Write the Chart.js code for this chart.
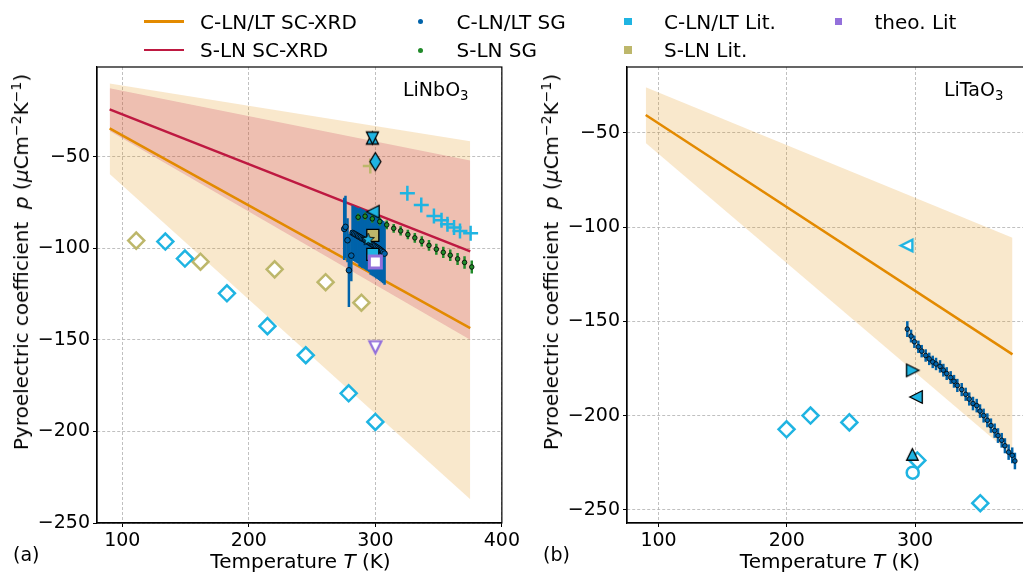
<!DOCTYPE html>
<html>
<head>
<meta charset="utf-8">
<title>Pyroelectric coefficient of LiNbO3 and LiTaO3</title>
<script src="https://cdn.jsdelivr.net/npm/chart.js@4.4.1/dist/chart.umd.min.js"></script>
<style>
  html, body { margin: 0; padding: 0; background: #fff; width: 1023px; height: 572px; overflow: hidden; }
  body { position: relative; font-family: 'DejaVu Sans', sans-serif; color: #000; }
  canvas { position: absolute; top: 0; }
  #chartA { left: 0; }
  #chartB { left: 520px; }
  .txt { position: absolute; white-space: nowrap; line-height: 1; font-size: 20px; }
  .small { font-size: 19px; }
  .ylab { transform: translate(-50%, -50%) rotate(-90deg); }
  .xlab { transform: translateX(-50%); }
  .key { position: absolute; }
  sup, sub { font-size: 70%; line-height: 0; }
  sup { vertical-align: 0.5em; }
  sub { vertical-align: -0.3em; }
</style>
</head>
<body>
<canvas id="chartA" width="523" height="572"></canvas>
<canvas id="chartB" width="540" height="572"></canvas>

<!-- legend -->
<div class="key" style="left:144px;top:20.25px;width:40px;height:2.5px;background:#E38A00"></div>
<div class="txt" style="left:200px;top:11.9px">C-LN/LT SC-XRD</div>
<div class="key" style="left:417.5px;top:19px;width:5px;height:5px;border-radius:50%;background:#0063AA"></div>
<div class="txt" style="left:456.5px;top:11.9px">C-LN/LT SG</div>
<div class="key" style="left:624.25px;top:17.75px;width:7.5px;height:7.5px;background:#1FB4E2"></div>
<div class="txt" style="left:664px;top:11.9px">C-LN/LT Lit.</div>
<div class="key" style="left:834.75px;top:17.75px;width:7.5px;height:7.5px;background:#9370DB"></div>
<div class="txt" style="left:874.5px;top:11.9px">theo. Lit</div>
<div class="key" style="left:144px;top:48.75px;width:40px;height:2.5px;background:#BE1941"></div>
<div class="txt" style="left:200px;top:40.4px">S-LN SC-XRD</div>
<div class="key" style="left:417.5px;top:47.5px;width:5px;height:5px;border-radius:50%;background:#218A2A"></div>
<div class="txt" style="left:456.5px;top:40.4px">S-LN SG</div>
<div class="key" style="left:624.25px;top:46.25px;width:7.5px;height:7.5px;background:#BDB76B"></div>
<div class="txt" style="left:664px;top:40.4px">S-LN Lit.</div>

<!-- axis titles and panel names -->
<div class="txt ylab" style="left:21px;top:262px">Pyroelectric coefficient&nbsp; <i>p</i> (<i>μ</i>Cm<sup>−2</sup>K<sup>−1</sup>)</div>
<div class="txt ylab" style="left:551px;top:262px">Pyroelectric coefficient&nbsp; <i>p</i> (<i>μ</i>Cm<sup>−2</sup>K<sup>−1</sup>)</div>
<div class="txt xlab" style="left:300.5px;top:551px">Temperature <i>T</i> (K)</div>
<div class="txt xlab" style="left:830px;top:551px">Temperature <i>T</i> (K)</div>
<div class="txt small" style="left:403px;top:79.5px">LiNbO<sub>3</sub></div>
<div class="txt small" style="left:944px;top:80px">LiTaO<sub>3</sub></div>
<div class="txt small" style="left:13px;top:545px">(a)</div>
<div class="txt small" style="left:543px;top:545px">(b)</div>

<script>
// ---------- data: LiNbO3 (a) ----------
const lnTicksX = [100, 200, 300, 400];
const lnTicksY = [-250, -200, -150, -100, -50];

const lnFitT = [90, 375];
const lnCXrd = [-34.5, -143.6];
const lnCXrdHi = [-10.0, -41.5];
const lnCXrdLo = [-59.4, -237.0];
const lnSXrd = [-24.1, -101.7];
const lnSXrdHi = [-12.6, -52.0];
const lnSXrdLo = [-36.0, -150.0];

const lnCSgT = [275.4, 276.4, 278.0, 279.1, 281.0, 282.0, 283.1, 284.2, 285.3, 286.4, 287.5, 288.6, 289.7, 290.8, 291.9,
  293.0, 294.1, 295.2, 296.3, 297.4, 298.5, 299.6, 300.7, 301.8, 302.9, 304.0, 305.1, 306.2, 307.3];
const lnCSgP = [-89.4, -88.3, -95.6, -112.0, -104.0, -91.6, -92.0, -92.4, -92.9, -93.3, -93.8, -94.2, -94.7, -95.0, -95.5,
  -96.0, -96.4, -96.9, -97.4, -97.8, -98.3, -98.8, -99.3, -99.8, -100.3, -100.9, -101.5, -102.1, -102.9];
const lnCSgErr = [17, 17, 12, 20, 14, 15, 15, 15, 15, 15, 16, 16, 16, 16, 16,
  16, 16, 16, 17, 17, 17, 17, 17, 17, 17, 17, 17, 17, 17];

const lnSSgT = [286.4, 291.9, 297.6, 303.5, 309.0, 314.5, 320.0, 325.7, 331.2, 336.7, 342.4, 348.2, 353.7, 359.2, 365.0, 370.5, 376.2];
const lnSSgP = [-83.0, -82.5, -83.9, -85.4, -87.2, -89.1, -90.5, -92.5, -94.3, -96.2, -98.4, -100.5, -102.2, -103.8, -105.8, -107.7, -110.2];
const lnSSgErr = [2.0, 2.0, 2.2, 2.2, 2.4, 2.4, 2.5, 2.6, 2.7, 2.8, 2.9, 3.0, 3.1, 3.2, 3.3, 3.4, 3.6];

const lnCLitDiaT = [134.0, 149.5, 182.7, 214.7, 245.0, 278.9, 300.0];
const lnCLitDiaP = [-96.3, -105.6, -124.6, -142.5, -158.4, -179.2, -194.8];
const lnSLitDiaT = [111.0, 161.8, 220.4, 260.7, 289.0];
const lnSLitDiaP = [-95.8, -107.3, -111.5, -118.5, -129.7];
const lnCLitCrossT = [325.3, 336.3, 346.3, 352.3, 357.0, 362.2, 366.9, 375.3];
const lnCLitCrossP = [-69.9, -76.4, -82.3, -84.7, -86.9, -88.7, -90.5, -91.8];

// single values near room temperature
const lnSingleT = [296.0, 297.7, 297.7, 300.0, 298.0, 298.0, 294.3, 298.0, 300.0, 300.0];
const lnSingleP = [-55.0, -39.8, -39.8, -52.7, -80.0, -92.9, -95.2, -103.3, -107.5, -154.0];

// ---------- data: LiTaO3 (b) ----------
const ltTicksX = [100, 200, 300];
const ltTicksY = [-250, -200, -150, -100, -50];

const ltFitT = [90, 376];
const ltCXrd = [-40.5, -167.5];
const ltCXrdHi = [-25.7, -105.6];
const ltCXrdLo = [-55.3, -221.0];

const ltCSgT = [294.0, 296.9, 299.5, 302.6, 305.2, 308.3, 311.1, 313.8, 316.4, 319.5, 322.1, 324.7, 327.8, 330.4, 333.0, 336.4,
  339.5, 342.3, 345.2, 348.1, 350.7, 353.5, 356.4, 359.2, 362.1, 364.7, 367.6, 370.1, 373.0, 375.8, 377.9];
const ltCSgP = [-154.1, -157.8, -160.8, -163.5, -165.8, -168.1, -169.9, -171.5, -172.6, -173.9, -175.9, -177.7, -179.8, -181.8, -184.0, -186.2,
  -188.7, -191.2, -193.6, -194.7, -197.6, -200.0, -202.5, -205.3, -208.0, -210.6, -213.1, -216.0, -219.4, -221.1, -224.1];
const ltCSgErr = [4.2, 3.4, 3.3, 3.3, 3.3, 3.3, 3.3, 3.3, 3.3, 3.3, 3.4, 3.4, 3.4, 3.4, 3.5, 3.5,
  3.5, 3.5, 3.6, 3.6, 3.6, 3.7, 3.7, 3.8, 3.8, 3.9, 3.9, 4.0, 4.1, 4.2, 4.4];

const ltCLitDiaT = [199.8, 218.5, 248.8, 301.8, 350.9];
const ltCLitDiaP = [-207.3, -200.0, -203.6, -223.8, -246.5];
const ltSingleT = [293.5, 298.2, 300.8, 298.2, 297.9];
const ltSingleP = [-109.7, -176.0, -190.1, -230.3, -220.6];

// ---------- colours ----------
const ORANGE = '#E38A00';
const CRIMSON = '#BE1941';
const LBLUE = '#1FB4E2';
const DBLUE = '#0063AA';
const GREEN = '#218A2A';
const PURPLE = '#9370DB';
const OLIVE = '#BDB76B';

Chart.defaults.font.family = "'DejaVu Sans', sans-serif";
Chart.defaults.color = '#000';

const pts = (xs, ys) => xs.map((x, i) => ({ x, y: ys[i] }));

// custom marker shapes (matplotlib style, centred on their bounding box)
function markerCanvas(size, lw, drawPath) {
  const c = document.createElement('canvas');
  c.width = c.height = Math.ceil(size + 2 * lw + 4);
  const g = c.getContext('2d');
  g.translate(c.width / 2, c.height / 2);
  drawPath(g);
  return c;
}
function tri(size, rot, fill, edge, lw) {
  return markerCanvas(size, lw, g => {
    const h = size / 2;
    g.rotate(rot * Math.PI / 180);
    g.beginPath();
    g.moveTo(0, -h); g.lineTo(h, h); g.lineTo(-h, h);
    g.closePath();
    g.fillStyle = fill; g.fill();
    g.lineWidth = lw; g.strokeStyle = edge; g.stroke();
  });
}
function thinDiamond(w, h, fill) {
  return markerCanvas(h, 1.3, g => {
    g.beginPath();
    g.moveTo(0, -h / 2); g.lineTo(w / 2, 0); g.lineTo(0, h / 2); g.lineTo(-w / 2, 0);
    g.closePath();
    g.fillStyle = fill; g.fill();
    g.lineWidth = 1.3; g.strokeStyle = '#000'; g.stroke();
  });
}
function star(r, fill) {
  return markerCanvas(2 * r, 1, g => {
    g.beginPath();
    for (let i = 0; i < 10; i++) {
      const a = -Math.PI / 2 + i * Math.PI / 5;
      const rr = i % 2 ? r * 0.42 : r;
      g.lineTo(rr * Math.cos(a), rr * Math.sin(a));
    }
    g.closePath();
    g.fillStyle = fill; g.fill();
    g.lineWidth = 0.9; g.strokeStyle = '#000'; g.stroke();
  });
}

// marker styles for the single values (same order as the arrays above)
const lnSingleStyle = [
  { pointStyle: 'cross', radius: 7.5, fill: OLIVE, edge: OLIVE, bw: 2.5 },
  { pointStyle: tri(12, 0, LBLUE, '#000', 1.3), radius: 7 },
  { pointStyle: tri(12, 180, LBLUE, '#000', 1.3), radius: 7 },
  { pointStyle: thinDiamond(11, 18, LBLUE), radius: 9 },
  { pointStyle: tri(12.5, 270, LBLUE, '#000', 1.3), radius: 7 },
  { pointStyle: 'rect', radius: 8.5, fill: OLIVE, edge: '#000', bw: 1.3 },
  { pointStyle: star(6.5, LBLUE), radius: 6 },
  { pointStyle: 'rect', radius: 8.5, fill: LBLUE, edge: '#000', bw: 1.3 },
  { pointStyle: 'rect', radius: 8.5, fill: '#fff', edge: PURPLE, bw: 3 },
  { pointStyle: tri(12, 180, '#fff', PURPLE, 2.2), radius: 7 }
];
const ltSingleStyle = [
  { pointStyle: tri(11.5, 270, '#fff', LBLUE, 2.5), radius: 7 },
  { pointStyle: tri(12.5, 90, LBLUE, '#000', 1.3), radius: 7 },
  { pointStyle: tri(12.5, 270, LBLUE, '#000', 1.3), radius: 7 },
  { pointStyle: 'circle', radius: 6, fill: '#fff', edge: LBLUE, bw: 2.5 },
  { pointStyle: tri(11.5, 0, LBLUE, '#000', 1.3), radius: 7 }
];

function singles(ts, ps, styles, startOrder) {
  return ts.map((t, i) => {
    const s = styles[i];
    return {
      type: 'scatter', data: [{ x: t, y: ps[i] }], pointStyle: s.pointStyle, pointRadius: s.radius,
      pointBackgroundColor: s.fill || '#fff', pointBorderColor: s.edge || '#000', pointBorderWidth: s.bw || 0,
      order: startOrder - i
    };
  });
}

function band(xs, hi, lo, color, order) {
  return [
    { type: 'line', data: pts(xs, hi), borderWidth: 0, borderColor: 'transparent', pointRadius: 0, fill: '+1', backgroundColor: color, order },
    { type: 'line', data: pts(xs, lo), borderWidth: 0, borderColor: 'transparent', pointRadius: 0, fill: false, order: order - 0.5 }
  ];
}
function fitLine(xs, ys, color, order) {
  return { type: 'line', data: pts(xs, ys), borderColor: color, borderWidth: 2.5, pointRadius: 0, fill: false, order };
}
function openDiamonds(xs, ys, color, order) {
  return { type: 'scatter', data: pts(xs, ys), pointStyle: 'rectRot', pointRadius: 8, pointBackgroundColor: '#fff',
    pointBorderColor: color, pointBorderWidth: 2.5, order };
}
function sgSeries(xs, ys, errs, color, r, order) {
  return { type: 'scatter', data: pts(xs, ys), errors: errs, errorColor: color, errorWidth: 2.5,
    pointStyle: 'circle', pointRadius: r, pointBackgroundColor: color, pointBorderColor: '#000', pointBorderWidth: 0.8, order };
}

// error bars drawn just before their dataset
const errorBars = {
  id: 'errorBars',
  beforeDatasetDraw(chart, args) {
    const ds = chart.data.datasets[args.index];
    if (!ds.errors) return;
    const { ctx, chartArea: a, scales: { x, y } } = chart;
    ctx.save();
    ctx.beginPath();
    ctx.rect(a.left, a.top, a.right - a.left, a.bottom - a.top);
    ctx.clip();
    ctx.strokeStyle = ds.errorColor;
    ctx.lineWidth = ds.errorWidth;
    ds.data.forEach((p, i) => {
      const px = x.getPixelForValue(p.x);
      ctx.beginPath();
      ctx.moveTo(px, y.getPixelForValue(p.y + ds.errors[i]));
      ctx.lineTo(px, y.getPixelForValue(p.y - ds.errors[i]));
      ctx.stroke();
    });
    ctx.restore();
  }
};

// full box around the axes
const frame = {
  id: 'frame',
  afterDraw(chart) {
    const { ctx, chartArea: a } = chart;
    ctx.save();
    ctx.strokeStyle = '#000';
    ctx.lineWidth = 1.2;
    ctx.strokeRect(a.left, a.top, a.right - a.left, a.bottom - a.top);
    ctx.restore();
  }
};

function scales(xmin, xmax, ymin, ymax, xTicks, yTicks, yWidth) {
  const grid = { color: '#b0b0b0', lineWidth: 0.8, tickLength: 4, tickColor: '#000', tickWidth: 1 };
  const border = { color: '#000', width: 1.2, dash: [3, 2] };
  const fmt = v => String(v).replace('-', '\u2212');
  return {
    x: {
      type: 'linear', min: xmin, max: xmax, grid, border,
      ticks: { font: { size: 19 }, padding: 3, maxRotation: 0, callback: fmt },
      afterBuildTicks: s => { s.ticks = xTicks.map(value => ({ value })); },
      afterFit: s => { s.height = 49; }
    },
    y: {
      type: 'linear', min: ymin, max: ymax, grid, border,
      ticks: { font: { size: 19 }, padding: 3, callback: fmt },
      afterBuildTicks: s => { s.ticks = yTicks.map(value => ({ value })); },
      afterFit: s => { s.width = yWidth; }
    }
  };
}

function baseOptions(sc, padRight) {
  return {
    responsive: false, animation: false, devicePixelRatio: 1, events: [],
    layout: { padding: { top: 67, right: padRight, bottom: 0, left: 0 } },
    plugins: { legend: { display: false }, tooltip: { enabled: false } },
    scales: sc
  };
}

// ---------- panel (a) LiNbO3 ----------
new Chart(document.getElementById('chartA'), {
  type: 'scatter',
  data: {
    datasets: [
      ...band(lnFitT, lnCXrdHi, lnCXrdLo, 'rgba(227,138,0,0.2)', 100),
      ...band(lnFitT, lnSXrdHi, lnSXrdLo, 'rgba(190,25,65,0.2)', 98),
      fitLine(lnFitT, lnCXrd, ORANGE, 90),
      fitLine(lnFitT, lnSXrd, CRIMSON, 89),
      openDiamonds(lnSLitDiaT, lnSLitDiaP, OLIVE, 80),
      openDiamonds(lnCLitDiaT, lnCLitDiaP, LBLUE, 79),
      sgSeries(lnCSgT, lnCSgP, lnCSgErr, DBLUE, 2.8, 70),
      sgSeries(lnSSgT, lnSSgP, lnSSgErr, GREEN, 2.3, 69),
      { type: 'scatter', data: pts(lnCLitCrossT, lnCLitCrossP), pointStyle: 'cross', pointRadius: 7.5,
        pointBorderColor: LBLUE, pointBorderWidth: 2.5, order: 60 },
      ...singles(lnSingleT, lnSingleP, lnSingleStyle, 59)
    ]
  },
  options: baseOptions(scales(80, 400, -250, -1, lnTicksX, lnTicksY, 97), 19),
  plugins: [errorBars, frame]
});

// ---------- panel (b) LiTaO3 ----------
new Chart(document.getElementById('chartB'), {
  type: 'scatter',
  data: {
    datasets: [
      ...band(ltFitT, ltCXrdHi, ltCXrdLo, 'rgba(227,138,0,0.2)', 100),
      fitLine(ltFitT, ltCXrd, ORANGE, 90),
      openDiamonds(ltCLitDiaT, ltCLitDiaP, LBLUE, 80),
      sgSeries(ltCSgT, ltCSgP, ltCSgErr, DBLUE, 2.3, 70),
      ...singles(ltSingleT, ltSingleP, ltSingleStyle, 59)
    ]
  },
  options: baseOptions(scales(75.4, 392, -257, -15, ltTicksX, ltTicksY, 107), 27),
  plugins: [errorBars, frame]
});
</script>
</body>
</html>
